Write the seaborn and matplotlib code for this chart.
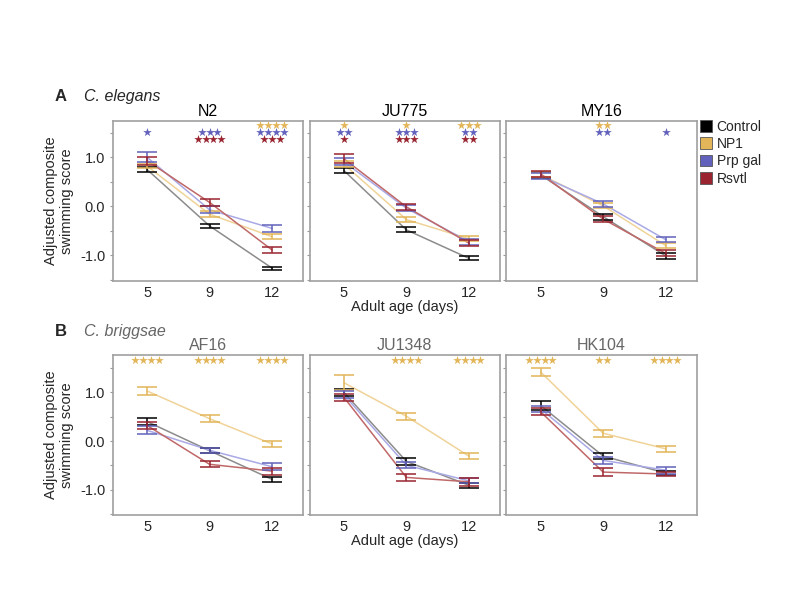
import numpy as np
import pandas as pd
import seaborn as sns
import matplotlib.pyplot as plt
from matplotlib.patches import Patch

# ---- data ----
days = ["5", "9", "12"]
groups = ["Control", "NP1", "Prp gal", "Rsvtl"]

strains_a = ["N2", "JU775", "MY16"]
strains_b = ["AF16", "JU1348", "HK104"]

# mean scores, one list per group, per strain
n2_mean = {"Control": [0.75, -0.40, -1.26], "NP1": [0.82, -0.16, -0.62],
           "Prp gal": [1.00, -0.07, -0.45], "Rsvtl": [0.93, 0.08, -0.89]}
n2_err = {"Control": [0.05, 0.04, 0.03], "NP1": [0.04, 0.06, 0.05],
          "Prp gal": [0.10, 0.07, 0.07], "Rsvtl": [0.08, 0.07, 0.06]}

ju775_mean = {"Control": [0.73, -0.48, -1.06], "NP1": [0.86, -0.27, -0.66],
              "Prp gal": [0.91, -0.04, -0.72], "Rsvtl": [0.97, -0.01, -0.75]}
ju775_err = {"Control": [0.05, 0.05, 0.04], "NP1": [0.06, 0.05, 0.05],
             "Prp gal": [0.07, 0.06, 0.06], "Rsvtl": [0.09, 0.06, 0.06]}

my16_mean = {"Control": [0.64, -0.21, -1.01], "NP1": [0.65, 0.01, -0.80],
             "Prp gal": [0.62, 0.05, -0.68], "Rsvtl": [0.66, -0.26, -0.96]}
my16_err = {"Control": [0.06, 0.06, 0.06], "NP1": [0.05, 0.05, 0.06],
            "Prp gal": [0.06, 0.06, 0.05], "Rsvtl": [0.06, 0.06, 0.06]}

af16_mean = {"Control": [0.40, -0.20, -0.79], "NP1": [1.03, 0.46, -0.06],
             "Prp gal": [0.22, -0.19, -0.53], "Rsvtl": [0.32, -0.48, -0.62]}
af16_err = {"Control": [0.07, 0.05, 0.05], "NP1": [0.08, 0.07, 0.07],
            "Prp gal": [0.08, 0.05, 0.07], "Rsvtl": [0.07, 0.06, 0.07]}

ju1348_mean = {"Control": [1.00, -0.42, -0.91], "NP1": [1.20, 0.51, -0.31],
               "Prp gal": [0.95, -0.50, -0.82], "Rsvtl": [0.90, -0.75, -0.84]}
ju1348_err = {"Control": [0.07, 0.07, 0.05], "NP1": [0.15, 0.07, 0.07],
              "Prp gal": [0.07, 0.06, 0.05], "Rsvtl": [0.07, 0.08, 0.08]}

hk104_mean = {"Control": [0.73, -0.31, -0.66], "NP1": [1.42, 0.16, -0.16],
              "Prp gal": [0.66, -0.40, -0.60], "Rsvtl": [0.60, -0.64, -0.68]}
hk104_err = {"Control": [0.09, 0.06, 0.05], "NP1": [0.09, 0.07, 0.06],
             "Prp gal": [0.07, 0.07, 0.07], "Rsvtl": [0.07, 0.08, 0.05]}

# significance stars: number of stars per day, for each treated group
n2_stars = {"NP1": [0, 0, 4], "Prp gal": [1, 3, 4], "Rsvtl": [0, 4, 3]}
ju775_stars = {"NP1": [1, 1, 3], "Prp gal": [2, 3, 2], "Rsvtl": [1, 3, 2]}
my16_stars = {"NP1": [0, 2, 0], "Prp gal": [0, 2, 1], "Rsvtl": [0, 0, 0]}
af16_stars = {"NP1": [4, 4, 4]}
ju1348_stars = {"NP1": [0, 4, 4]}
hk104_stars = {"NP1": [4, 2, 4]}

bar_colors = {"Control": "#000000", "NP1": "#E2B558",
              "Prp gal": "#6262BC", "Rsvtl": "#9A2530"}
line_colors = {"Control": "#8C8C8C", "NP1": "#F0D398",
               "Prp gal": "#A9A9E6", "Rsvtl": "#C06868"}
star_row = {"NP1": 1.66, "Prp gal": 1.52, "Rsvtl": 1.38}

sns.set_theme(style="white")
plt.rcParams["font.family"] = ["Liberation Sans", "DejaVu Sans"]

fig = plt.figure(figsize=(8, 6), dpi=100)

lefts = [0.141, 0.387, 0.633]
w = 0.238
row_a = 0.532
row_b = 0.142
h = 0.267

panels = [
    (strains_a[0], n2_mean, n2_err, n2_stars, lefts[0], row_a, "black"),
    (strains_a[1], ju775_mean, ju775_err, ju775_stars, lefts[1], row_a, "black"),
    (strains_a[2], my16_mean, my16_err, my16_stars, lefts[2], row_a, "black"),
    (strains_b[0], af16_mean, af16_err, af16_stars, lefts[0], row_b, "#666666"),
    (strains_b[1], ju1348_mean, ju1348_err, ju1348_stars, lefts[1], row_b, "#666666"),
    (strains_b[2], hk104_mean, hk104_err, hk104_stars, lefts[2], row_b, "#666666"),
]

for name, means, errs, stars, left, bottom, tcol in panels:
    ax = fig.add_axes([left, bottom, w, h])
    rows = []
    for g in groups:
        for k in range(3):
            rows.append({"pos": k, "score": means[g][k], "group": g})
    df = pd.DataFrame(rows)
    sns.lineplot(data=df, x="pos", y="score", hue="group", hue_order=groups,
                 palette=line_colors, legend=False, ax=ax, lw=1.1)
    for g in groups:
        ax.errorbar(range(3), means[g], yerr=errs[g], fmt="none",
                    ecolor=bar_colors[g], elinewidth=1.1, capsize=7,
                    capthick=1.1, zorder=3)
    # significance stars as star markers, centred over each day
    for g, counts in stars.items():
        for k, n in enumerate(counts):
            if n:
                xs = k + (np.arange(n) - (n - 1) / 2) * 0.125
                ax.scatter(xs, [star_row[g]] * n, marker="*", s=42,
                           color=bar_colors[g], linewidths=0, zorder=4)
    ax.set_xlim(-0.55, 2.5)
    ax.set_ylim(-1.52, 1.75 if bottom == row_a else 1.78)
    ax.set_xticks([0, 1, 2])
    ax.set_xticklabels(days, fontsize=10.5)
    ax.set_yticks([-1.5, -1.0, -0.5, 0.0, 0.5, 1.0, 1.5])
    if left == lefts[0]:
        ax.set_yticklabels(["", "-1.0", "", "0.0", "", "1.0", ""], fontsize=10.5)
        ax.set_ylabel("Adjusted composite\nswimming score", fontsize=10.5,
                      labelpad=4)
    else:
        ax.set_yticklabels([])
        ax.set_ylabel("")
    if left == lefts[1]:
        ax.set_xlabel("Adult age (days)", fontsize=10.5, labelpad=0)
    else:
        ax.set_xlabel("")
    ax.tick_params(axis="y", length=2.5, width=0.8, color="#999999",
                   direction="out", left=True, pad=3)
    ax.tick_params(axis="x", length=0, pad=4)
    for sp in ax.spines.values():
        sp.set_color("#A0A0A0")
        sp.set_linewidth(1.2)
    ax.set_title(name, fontsize=11.5, color=tcol, pad=3)

fig.text(0.068, 0.832, "A", fontsize=12, fontweight="bold")
fig.text(0.105, 0.832, "C. elegans", fontsize=11.5, style="italic")
fig.text(0.068, 0.440, "B", fontsize=12, fontweight="bold")
fig.text(0.105, 0.440, "C. briggsae", fontsize=11.5, style="italic",
         color="#666666")

handles = [Patch(facecolor=bar_colors[g], edgecolor="#555555", lw=0.6, label=g)
           for g in groups]
fig.legend(handles=handles, loc="upper left", bbox_to_anchor=(0.868, 0.81),
           frameon=False, fontsize=10, handlelength=0.9, handleheight=0.9,
           handletextpad=0.3, labelspacing=0.25, borderaxespad=0)

fig.savefig("out.png", dpi=100)
